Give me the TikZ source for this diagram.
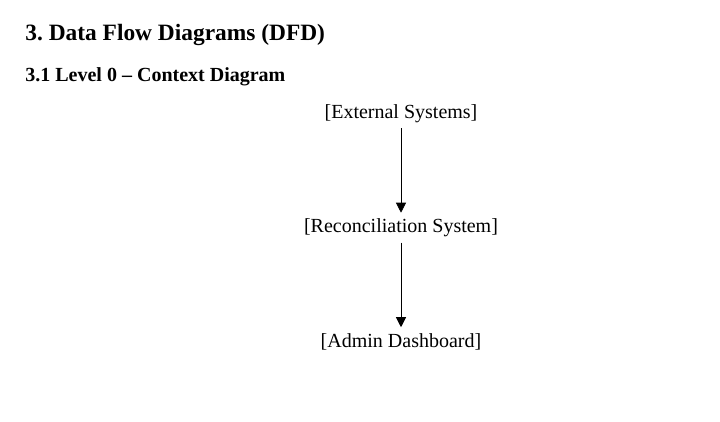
\documentclass[tikz,border=0pt]{standalone}
\usepackage{fontspec}
\setmainfont{Liberation Serif}
\usetikzlibrary{arrows.meta}
\def\flowsep{114.5pt}

\begin{document}
\frenchspacing
\begin{tikzpicture}[-{Triangle[width=10pt,length=10pt]}, line width=0.8pt]
  \tikzstyle{heading}=[anchor=base west, inner sep=0pt, font=\bfseries\fontsize{23.4}{28}\selectfont]
  \tikzstyle{subheading}=[anchor=base west, inner sep=0pt, font=\bfseries\fontsize{20}{24}\selectfont]
  \tikzstyle{entity}=[anchor=base, inner sep=5.5pt, font=\fontsize{20}{24}\selectfont]

  \useasboundingbox (0,0) rectangle (720pt,-421pt);

  \node[heading] (title) at (25pt,-40pt) {3. Data Flow Diagrams (DFD)};
  \node[subheading] (level) at (25pt,-81pt) {3.1 Level 0 – Context Diagram};

  \foreach \name/\text [count=\i from 0] in {ext/External Systems, rec/Reconciliation System, adm/Admin Dashboard}
    \node[entity] (\name) at (401pt,-118pt-\i*\flowsep) {[\text]};

  \foreach \source/\dest in {ext/rec, rec/adm}
    \path (\source) edge (\dest);
\end{tikzpicture}
\end{document}
